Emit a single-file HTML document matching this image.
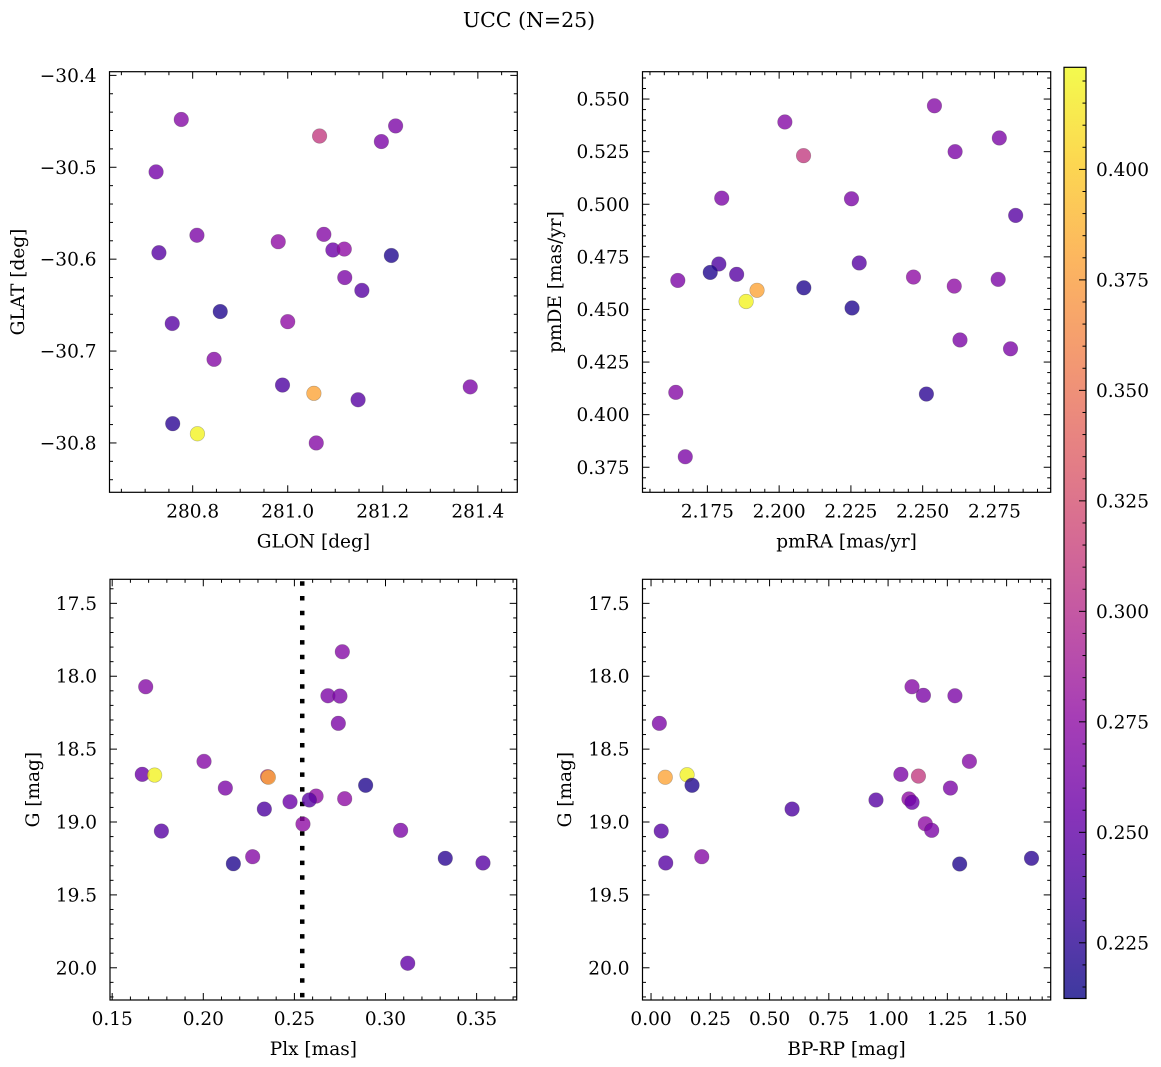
<!DOCTYPE html>
<html><head><meta charset="utf-8"><style>
html,body{margin:0;padding:0;background:#fff;}
svg{display:block;font-family:"DejaVu Serif","Liberation Serif",serif;}
</style></head><body>
<svg id="fig" width="1161" height="1067" viewBox="0 0 1161 1067" xmlns="http://www.w3.org/2000/svg">
<defs>
<linearGradient id="cmapgrad" x1="0" y1="1" x2="0" y2="0"></linearGradient>
</defs>
<text x="529" y="27" font-size="20.5" text-anchor="middle">UCC (N=25)</text>
<g id="layer"></g>
</svg>
<script>
// ---------- data ----------
const tlGlon=[280.776,281.067,281.197,281.227,280.723,280.809,280.729,280.980,281.076,281.095,281.119,281.218,281.120,281.156,280.858,280.757,281.000,280.845,280.989,281.055,281.148,281.384,280.758,280.810,281.060];
const tlGlat=[-30.448,-30.466,-30.472,-30.455,-30.505,-30.574,-30.593,-30.581,-30.573,-30.590,-30.589,-30.596,-30.620,-30.634,-30.657,-30.670,-30.668,-30.709,-30.737,-30.746,-30.753,-30.739,-30.779,-30.790,-30.800];
const tlColor=[0.27,0.31,0.265,0.265,0.26,0.265,0.245,0.275,0.27,0.255,0.275,0.22,0.265,0.245,0.22,0.245,0.275,0.27,0.24,0.38,0.245,0.265,0.225,0.42,0.27];

const trPmra=[2.2541,2.2020,2.2767,2.2085,2.2613,2.1800,2.2252,2.2824,2.1790,2.1760,2.2279,2.1852,2.1647,2.2468,2.2763,2.2610,2.2086,2.1923,2.1885,2.2254,2.2630,2.2806,2.1640,2.2513,2.1673];
const trPmde=[0.5468,0.5391,0.5315,0.5231,0.5250,0.5029,0.5026,0.4947,0.4716,0.4676,0.4721,0.4667,0.4638,0.4654,0.4643,0.4611,0.4603,0.4591,0.4538,0.4507,0.4355,0.4313,0.4106,0.4098,0.3800];
const trColor=[0.27,0.27,0.265,0.31,0.265,0.265,0.265,0.245,0.24,0.22,0.245,0.245,0.265,0.275,0.265,0.275,0.22,0.38,0.42,0.22,0.265,0.265,0.27,0.225,0.265];

const blPlx=[0.2763,0.1684,0.2684,0.2750,0.2741,0.2004,0.1665,0.1733,0.2353,0.2357,0.2891,0.2121,0.2619,0.2582,0.2776,0.2476,0.2335,0.2547,0.3083,0.1770,0.2271,0.3328,0.2165,0.3535,0.3122];
const blG=[17.832,18.072,18.134,18.136,18.323,18.584,18.673,18.678,18.689,18.693,18.748,18.767,18.822,18.849,18.840,18.861,18.911,19.014,19.057,19.062,19.238,19.249,19.286,19.281,19.969];
const blColor=[0.27,0.27,0.265,0.265,0.265,0.27,0.255,0.42,0.31,0.38,0.22,0.265,0.275,0.245,0.275,0.255,0.24,0.275,0.265,0.245,0.27,0.225,0.22,0.245,0.25];
const plxMarker=[0.2543];

const brBprp=[1.101,1.149,1.282,0.035,1.343,1.054,1.128,0.060,0.152,0.173,1.263,0.949,1.088,1.101,0.595,1.157,1.184,0.043,0.062,0.214,1.302,1.605];
const brG=[18.072,18.131,18.134,18.323,18.584,18.673,18.685,18.693,18.676,18.748,18.767,18.849,18.842,18.865,18.911,19.012,19.057,19.062,19.281,19.238,19.288,19.249];
const brColor=[0.27,0.265,0.265,0.265,0.27,0.265,0.31,0.38,0.42,0.22,0.265,0.245,0.275,0.255,0.24,0.275,0.265,0.245,0.245,0.27,0.22,0.225];

const cbTicks=[0.225,0.250,0.275,0.300,0.325,0.350,0.375,0.400];
const cbRange=[0.2124,0.4231];

// ---------- colormap (plasma) ----------
const plasma=[[13,8,135],[65,4,157],[106,0,168],[143,13,164],[177,42,144],[204,71,120],[225,100,98],[242,132,75],[252,166,54],[252,206,37],[240,249,33]];
function cmap(t){t=Math.max(0,Math.min(1,t));const f=t*10,i=Math.min(9,Math.floor(f)),r=f-i;const a=plasma[i],b=plasma[i+1];
return 'rgb('+a.map((v,k)=>Math.round(v+(b[k]-v)*r)).join(',')+')';}
function cnorm(v){return (v-cbRange[0])/(cbRange[1]-cbRange[0]);}

const NS='http://www.w3.org/2000/svg';
const layer=document.getElementById('layer');
function el(tag,attrs,parent){const e=document.createElementNS(NS,tag);for(const k in attrs)e.setAttribute(k,attrs[k]);(parent||layer).appendChild(e);return e;}
function fmt(v,d){const s=Math.abs(v).toFixed(d);return (v<0?'\u2212':'')+s;}
const FS=18.5;

function panel(p){
  const g=el('g',{});
  
  
  const sx=v=>p.x0+(v-p.xd[0])/(p.xd[1]-p.xd[0])*(p.x1-p.x0);
  const sy=v=>p.y0+(v-p.yd[1])/(p.yd[0]-p.yd[1])*(p.y1-p.y0);
  const syi=p.yinv?(v=>p.y0+(v-p.yd[0])/(p.yd[1]-p.yd[0])*(p.y1-p.y0)):sy;
  const tk=el('g',{stroke:'#000','stroke-width':1},g);
  
  
  const lo=Math.min(...p.xd),hi=Math.max(...p.xd);
  for(let i=Math.ceil(lo/p.xminor-1e-6);i*p.xminor<=hi+1e-9;i++){
    const v=i*p.xminor,isMaj=Math.abs(v/p.xmajor-Math.round(v/p.xmajor))<1e-6,L=isMaj?7:3.5,x=sx(v);
    el('line',{x1:x,x2:x,y1:p.y1,y2:p.y1-L},tk);el('line',{x1:x,x2:x,y1:p.y0,y2:p.y0+L},tk);
    if(isMaj){const t=el('text',{x:x,y:p.y1+25,'font-size':FS,'text-anchor':'middle',stroke:'none'},g);
      t.textContent=fmt(v,p.xdec);}
  }
  const ylo=Math.min(...p.yd),yhi=Math.max(...p.yd);
  for(let i=Math.ceil(ylo/p.yminor-1e-6);i*p.yminor<=yhi+1e-9;i++){
    const v=i*p.yminor,isMaj=Math.abs(v/p.ymajor-Math.round(v/p.ymajor))<1e-6,L=isMaj?7:3.5,y=syi(v);
    el('line',{x1:p.x0,x2:p.x0+L,y1:y,y2:y},tk);el('line',{x1:p.x1,x2:p.x1-L,y1:y,y2:y},tk);
    if(isMaj){const t=el('text',{x:p.x0-13,y:y+6.5,'font-size':FS,'text-anchor':'end',stroke:'none'},g);
      t.textContent=fmt(v,p.ydec);}
  }
  if(p.vline){const x=sx(p.vline[0]);const ln=el('line',{x1:x,x2:x,y1:p.y0+2,y2:p.y1,stroke:'#000','stroke-width':4.5,'stroke-dasharray':'4.5 10.2'},g);
    }
  p.c.forEach((cv,i)=>{
    const c=el('circle',{cx:sx(p.xs[i]),cy:syi(p.ys[i]),r:7.3,fill:cmap(cnorm(cv)),'fill-opacity':0.8,stroke:'rgba(60,60,60,0.35)','stroke-width':0.6},g);
    
    
  });
  const fr=el('rect',{x:p.x0,y:p.y0,width:p.x1-p.x0,height:p.y1-p.y0,fill:'none',stroke:'#000','stroke-width':1.2},g);
  
  const xl=el('text',{x:(p.x0+p.x1)/2,y:p.y1+55,'font-size':FS,'text-anchor':'middle'},g);
  xl.textContent=p.xlab;
  const yc=(p.y0+p.y1)/2;
  const yl=el('text',{x:p.ylx,y:yc,'font-size':FS,'text-anchor':'middle',transform:'rotate(-90 '+p.ylx+' '+yc+')'},g);
  yl.textContent=p.ylab;
}

panel({name:'glon-glat-panel',x0:109.5,x1:517.3,y0:71.7,y1:492.3,xd:[280.625,281.483],yd:[-30.8537,-30.396],xmajor:0.2,xminor:0.05,ymajor:0.1,yminor:0.02,xdec:1,ydec:1,xs:tlGlon,ys:tlGlat,c:tlColor,xlab:'GLON [deg]',ylab:'GLAT [deg]',ylx:24});
panel({name:'pm-panel',x0:642.5,x1:1050.7,y0:71.7,y1:492.3,xd:[2.1524,2.2946],yd:[0.3631,0.563],xmajor:0.025,xminor:0.005,ymajor:0.025,yminor:0.005,xdec:3,ydec:3,xs:trPmra,ys:trPmde,c:trColor,xlab:'pmRA [mas/yr]',ylab:'pmDE [mas/yr]',ylx:561});
panel({name:'plx-g-panel',x0:110,x1:516.7,y0:579.3,y1:1000,xd:[0.1488,0.3720],yd:[17.335,20.221],yinv:true,xmajor:0.05,xminor:0.01,ymajor:0.5,yminor:0.1,xdec:2,ydec:1,xs:blPlx,ys:blG,c:blColor,vline:plxMarker,xlab:'Plx [mas]',ylab:'G [mag]',ylx:39});
panel({name:'cmd-panel',x0:642.5,x1:1050.7,y0:579.3,y1:1000,xd:[-0.036,1.686],yd:[17.335,20.221],yinv:true,xmajor:0.25,xminor:0.05,ymajor:0.5,yminor:0.1,xdec:2,ydec:1,xs:brBprp,ys:brG,c:brColor,xlab:'BP-RP [mag]',ylab:'G [mag]',ylx:571});

// ---------- colorbar ----------
const grad=document.getElementById('cmapgrad');
for(let i=0;i<=20;i++){const s=document.createElementNS(NS,'stop');s.setAttribute('offset',(i/20));s.setAttribute('stop-color',cmap(i/20));s.setAttribute('stop-opacity',0.8);grad.appendChild(s);}
const cb={x0:1064,x1:1086,y0:67.3,y1:998.5};
const cbg=el('g',{});


el('rect',{x:cb.x0,y:cb.y0,width:cb.x1-cb.x0,height:cb.y1-cb.y0,fill:'url(#cmapgrad)',stroke:'#000','stroke-width':1.2},cbg);
const cy=v=>cb.y1-(v-cbRange[0])/(cbRange[1]-cbRange[0])*(cb.y1-cb.y0);
for(let i=Math.ceil(cbRange[0]/0.005);i*0.005<=cbRange[1];i++){
  const v=i*0.005,y=cy(v);const maj=cbTicks.some(t=>Math.abs(t-v)<1e-6);
  el('line',{x1:cb.x1,x2:cb.x1-(maj?7:3.5),y1:y,y2:y,stroke:'#000','stroke-width':1},cbg);
}
cbTicks.forEach(v=>{
  const t=el('text',{x:cb.x1+10,y:cy(v)+6.5,'font-size':FS},cbg);
  
  
  t.textContent=v.toFixed(3);
});
</script>
</body></html>
